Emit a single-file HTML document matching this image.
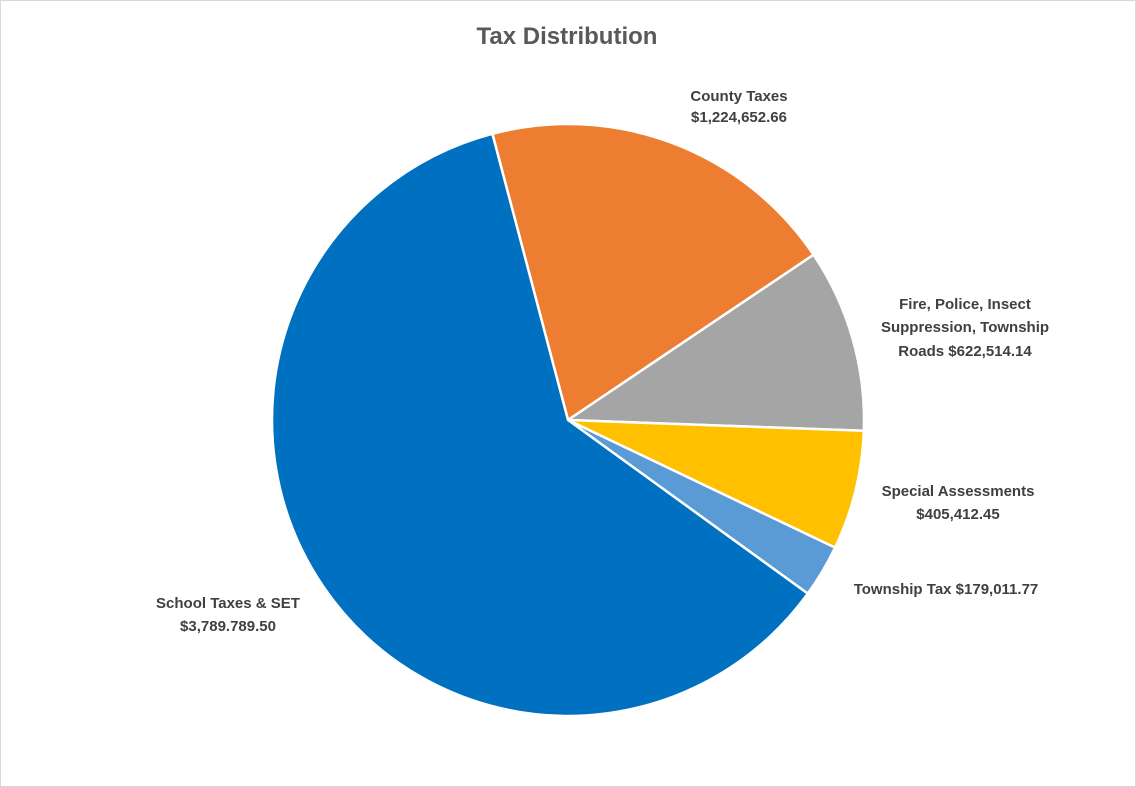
<!DOCTYPE html>
<html><head><meta charset="utf-8"><style>
body{margin:0;background:#fff;}
svg{display:block;font-family:"Liberation Sans",Arial,sans-serif;}
.lbl{font-size:15px;font-weight:bold;fill:#404040;}
</style></head><body>
<svg id="chart" width="1136" height="787">
<rect x="0.5" y="0.5" width="1135" height="786" fill="#fff" stroke="#d9d9d9"/>
<text x="567" y="44" text-anchor="middle" font-size="24" font-weight="bold" fill="#595959">Tax Distribution</text>
<g id="slices"></g>
<g>
<text class="lbl" text-anchor="middle"><tspan x="739" y="101">County Taxes</tspan><tspan x="739" y="122">$1,224,652.66</tspan></text>
<text class="lbl" text-anchor="middle"><tspan x="965" y="309">Fire, Police, Insect</tspan><tspan x="965" y="332">Suppression, Township</tspan><tspan x="965" y="356">Roads $622,514.14</tspan></text>
<text class="lbl" text-anchor="middle"><tspan x="958" y="496">Special Assessments</tspan><tspan x="958" y="519">$405,412.45</tspan></text>
<text class="lbl" text-anchor="middle"><tspan x="946" y="594">Township Tax $179,011.77</tspan></text>
<text class="lbl" text-anchor="middle"><tspan x="228" y="608">School Taxes &amp; SET</tspan><tspan x="228" y="631">$3,789.789.50</tspan></text>
</g>
</svg>
<script>
const categories=["County Taxes","Fire, Police, Insect Suppression, Township Roads","Special Assessments","Township Tax","School Taxes & SET"];
const values=[1224652.66,622514.14,405412.45,179011.77,3789789.50];
const colors=["#ED7D31","#A5A5A5","#FFC000","#5B9BD5","#0070C0"];
const cx=568,cy=420,r=296,start=-14.8;
const total=values.reduce((a,b)=>a+b,0);
const g=document.getElementById('slices');
let a=start;
function pt(deg){const t=deg*Math.PI/180;return [cx+r*Math.sin(t),cy-r*Math.cos(t)];}
values.forEach((v,i)=>{
 const sweep=v/total*360;const p0=pt(a),p1=pt(a+sweep);
 const p=document.createElementNS('http://www.w3.org/2000/svg','path');
 p.setAttribute('d',`M${cx},${cy}L${p0[0]},${p0[1]}A${r},${r} 0 ${sweep>180?1:0} 1 ${p1[0]},${p1[1]}Z`);
 p.setAttribute('fill',colors[i]);p.setAttribute('stroke','#fff');p.setAttribute('stroke-width','2.5');
 
 
 g.appendChild(p);a+=sweep;
});
</script>
</body></html>
